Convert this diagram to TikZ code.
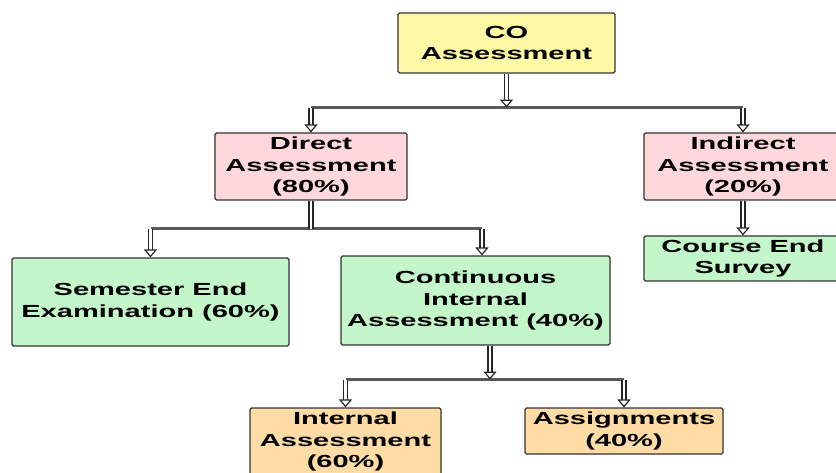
\documentclass[tikz,border=0pt]{standalone}
\usepackage{fontspec}
\setmainfont{Liberation Sans}[FakeStretch=1.66]
\usepackage{xcolor}
\usepackage{tikz}
\usetikzlibrary{
  positioning,
  calc,
  arrows.meta
}

\definecolor{coyellow}{HTML}{FFF8A5}
\definecolor{copink}{HTML}{FFD8DB}
\definecolor{cogreen}{HTML}{C3F6C8}
\definecolor{coorange}{HTML}{FFDCA5}

\begin{document}
\begin{tikzpicture}[x=1pt,y=-1pt,
  box/.style={draw=black!80,line width=1.1pt,rounded corners=1.5pt,
    align=center,inner sep=0pt,
    font=\fontsize{17.5}{21.5}\selectfont\bfseries},
  pipe/.style={draw=black!85,line width=1.3pt,double=white,double distance=2.8pt},
  link/.style={pipe,-{Triangle[open,length=8pt,width=13pt,line width=1.2pt]}},
  rail/.style={draw=black!65,line width=2.6pt}]
  \useasboundingbox (0,0) rectangle (836,472);

  % ボックス
  \node[box,fill=coyellow,minimum width=217pt,minimum height=60pt] (co) at (506.5,43) {CO\\Assessment};
  \node[box,fill=copink,minimum width=192pt,minimum height=67pt] (direct) at (311,166.5) {Direct\\Assessment\\(80\%)};
  \node[box,fill=copink,minimum width=198pt,minimum height=67pt] (indirect) at (743,166.5) {Indirect\\Assessment\\(20\%)};
  \node[box,fill=cogreen,minimum width=198pt,minimum height=45pt] (survey) at (743,258.5) {Course End\\Survey};
  \node[box,fill=cogreen,minimum width=277pt,minimum height=88pt] (semester) at (150.5,302) {Semester End\\Examination (60\%)};
  \node[box,fill=cogreen,minimum width=269pt,minimum height=89pt] (cia) at (475.5,300.5) {Continuous\\Internal\\Assessment (40\%)};
  \node[box,fill=coorange,minimum width=191pt,minimum height=67pt] (internal) at (345.5,441.5) {Internal\\Assessment\\(60\%)};
  \node[box,fill=coorange,minimum width=198pt,minimum height=46pt] (assign) at (624,431) {Assignments\\(40\%)};

  % 分岐点
  \path (co.south) ++(0,34) coordinate (j1);
  \path (direct.south) ++(0,28) coordinate (j2);
  \coordinate (c2) at ([xshift=6.5pt]cia.north);
  \coordinate (c3) at ([xshift=14.5pt]cia.south);
  \path (c3) ++(0,34) coordinate (j3);

  % 矢印
  \draw[rail] (direct |- j1) -- (indirect |- j1);
  \draw[link] (co.south) -- (j1);
  \draw[link] (direct |- j1) -- (direct);
  \draw[link] (indirect |- j1) -- (indirect);
  \draw[link] (indirect) -- (survey);

  \draw[rail] (semester |- j2) -- (c2 |- j2);
  \draw[pipe] (direct.south) -- (j2);
  \draw[link] (semester |- j2) -- (semester);
  \draw[link] (c2 |- j2) -- (c2);

  \draw[rail] (internal |- j3) -- (assign |- j3);
  \draw[link] (c3) -- (j3);
  \draw[link] (internal |- j3) -- (internal);
  \draw[link] (assign |- j3) -- (assign);
\end{tikzpicture}
\end{document}
